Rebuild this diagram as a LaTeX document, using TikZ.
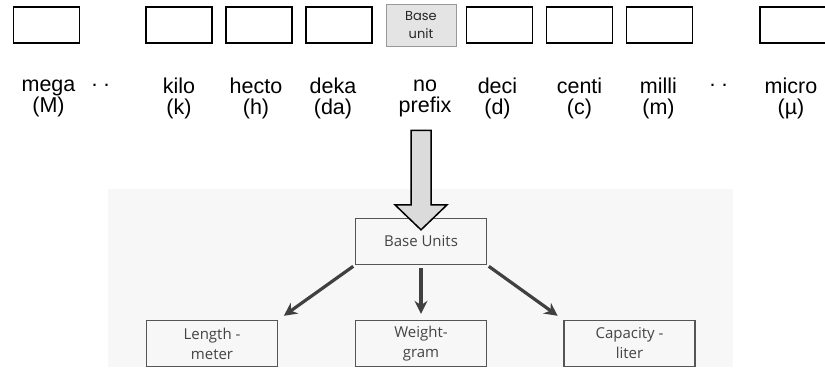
\documentclass[tikz,border=0pt]{standalone}
\usepackage{fontspec}
\setmainfont{Liberation Sans}
\newfontfamily\boxfont{Poppins}
\newfontfamily\chartfont{Open Sans}
\usetikzlibrary{calc,arrows.meta}

\definecolor{panelgray}{HTML}{F7F7F7}
\definecolor{chartline}{HTML}{555555}
\definecolor{charttext}{HTML}{444444}
\definecolor{basefill}{HTML}{E4E4E4}

\begin{document}
\begin{tikzpicture}[
    x=1pt, y=1pt,
    node distance=80pt,
    prefixbox/.style={rectangle, draw, line width=1.8pt, minimum width=66pt, minimum height=36pt, inner sep=0pt},
    basebox/.style={rectangle, draw=gray!80, fill=basefill, line width=0.9pt, minimum width=70pt, minimum height=42pt, inner sep=0pt, font=\boxfont\fontsize{13}{18}\selectfont, text=black!85, align=center},
    prefixlabel/.style={align=center, font=\fontsize{21.5}{21}\selectfont, inner sep=0pt,
        execute at begin node=\rule{0pt}{18pt}, execute at end node=\rule[-6pt]{0pt}{6pt}},
    unitbox/.style={rectangle, draw=chartline, line width=1.3pt, minimum width=131pt, minimum height=46pt, inner sep=0pt, align=center, text=charttext, font=\chartfont\fontsize{15}{20}\selectfont},
    arrow/.style={-{Stealth[length=13pt,width=13pt]}, line width=3.2pt, draw=black!75}
]
\useasboundingbox (0,0) rectangle (825,-367);

% panel behind the unit chart
\fill[panelgray] (108,-189) rectangle (733,-367);

% prefix boxes
\node[basebox] (baseunit) at (421,-25) {Base\\unit};
\node[prefixbox, left of=baseunit, node distance=82pt] (deka) {};
\node[prefixbox, left of=deka] (hecto) {};
\node[prefixbox, left of=hecto] (kilo) {};
\node[prefixbox, left of=kilo, node distance=132.5pt] (mega) {};
\node[prefixbox, right of=baseunit, node distance=78.5pt] (deci) {};
\node[prefixbox, right of=deci] (centi) {};
\node[prefixbox, right of=centi] (milli) {};
\node[prefixbox, right of=milli, node distance=133.5pt] (micro) {};

% prefix names
\node[prefixlabel, below of=mega, node distance=74pt, xshift=2pt] (lmega) {mega\\(M)};
\node[prefixlabel, below of=kilo, node distance=74pt] (lkilo) {kilo\\(k)};
\node[prefixlabel, below of=hecto, node distance=74pt, xshift=-3pt] (lhecto) {hecto\\(h)};
\node[prefixlabel, below of=deka, node distance=74pt, xshift=-6pt] (ldeka) {deka\\(da)};
\node[prefixlabel, below of=baseunit, node distance=74pt, xshift=4pt] (lbase) {no\\prefix};
\node[prefixlabel, below of=deci, node distance=74pt, xshift=-2pt] (ldeci) {deci\\(d)};
\node[prefixlabel, below of=centi, node distance=74pt] (lcenti) {centi\\(c)};
\node[prefixlabel, below of=milli, node distance=74pt, xshift=-1pt] (lmilli) {milli\\(m)};
\node[prefixlabel, below of=micro, node distance=74pt, xshift=-2pt] (lmicro) {micro\\(\textmu)};
\node[prefixlabel, right of=lmega, node distance=52pt] (ldotsl) {.\hspace{6pt}.\\};
\node[prefixlabel, right of=lmilli, node distance=60pt] (ldotsr) {.\hspace{6pt}.\\};

% unit chart
\node[unitbox] (baseunits) at (421,-241.5) {Base Units};
\node[unitbox, below of=baseunits, node distance=102pt] (weight) {Weight-\\gram};
\node[unitbox, left of=weight, node distance=209pt] (length) {Length -\\meter};
\node[unitbox, right of=weight, node distance=208.5pt] (capacity) {Capacity -\\liter};

\draw[arrow, shorten <=2pt, shorten >=7pt] (baseunits.south west) -- (length.north east);
\draw[arrow, shorten <=3pt, shorten >=6pt] (baseunits.south) -- (weight.north);
\draw[arrow, shorten <=2pt, shorten >=7pt] (baseunits.south east) -- (capacity.north west);

% big arrow from the base unit down to the chart
\coordinate (tip) at ($(baseunits.north)+(0,-12)$);
\coordinate (tail) at ($(lbase.south)+(0,-12)$);
\draw[fill=gray!28, line width=1.5pt, line join=miter]
    ($(tip |- tail)+(-10,0)$) -- ($(tip)+(-10,25)$) -- ($(tip)+(-26,25)$) -- (tip)
    -- ($(tip)+(26,25)$) -- ($(tip)+(10,25)$) -- ($(tip |- tail)+(10,0)$) -- cycle;

\end{tikzpicture}
\end{document}
